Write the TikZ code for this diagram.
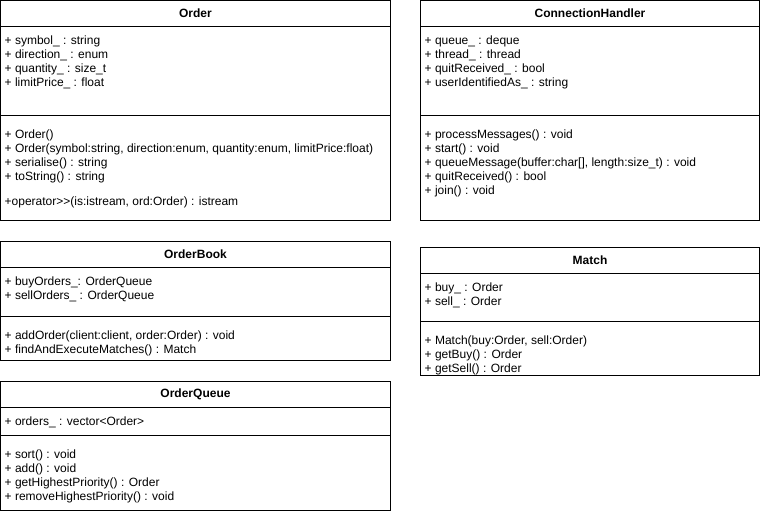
\documentclass[tikz,border=0pt]{standalone}
\usepackage{fontspec}
\setmainfont{Liberation Sans}
\usetikzlibrary{positioning}
\tikzset{
  classname/.style={draw, line width=1pt, inner sep=0pt, outer sep=0pt, anchor=north west,
    minimum height=26pt, font=\fontsize{12}{14}\selectfont\bfseries},
  classpart/.style={draw, line width=1pt, inner sep=0pt, outer sep=0pt},
  members/.style={align=left, anchor=north west, inner sep=0pt, font=\fontsize{12}{14}\selectfont},
}

\begin{document}
\begin{tikzpicture}[x=1pt, y=-1pt]
  \path[use as bounding box, fill=white] (0,0) rectangle (761,514);

  % Order
  \node[classname, minimum width=390pt] (order) at (0.5,0.5) {Order};
  \node[classpart, minimum width=390pt, minimum height=89pt, below=0pt of order] (orderattr) {};
  \node[classpart, minimum width=390pt, minimum height=105pt, below=0pt of orderattr] (orderops) {};
  \node[members] (ordervars) at ([xshift=4pt, yshift=-7.5pt]orderattr.north west)
    {\strut+ symbol\_ : string\\+ direction\_ : enum\\+ quantity\_ : size\_t\\+ limitPrice\_ : float};
  \node[members] (orderfuncs) at ([xshift=4pt, yshift=-12.5pt]orderops.north west)
    {\strut+ Order()\\+ Order(symbol:string, direction:enum, quantity:enum, limitPrice:float)\\
     + serialise() : string\\+ toString() : string\\[11.5pt]+operator>{}>(is:istream, ord:Order) : istream};

  % ConnectionHandler
  \node[classname, minimum width=339pt] (handler) at (420.5,0.5) {ConnectionHandler};
  \node[classpart, minimum width=339pt, minimum height=89pt, below=0pt of handler] (handlerattr) {};
  \node[classpart, minimum width=339pt, minimum height=105pt, below=0pt of handlerattr] (handlerops) {};
  \node[members] (handlervars) at ([xshift=4pt, yshift=-7.5pt]handlerattr.north west)
    {\strut+ queue\_ : deque\\+ thread\_ : thread\\+ quitReceived\_ : bool\\+ userIdentifiedAs\_ : string};
  \node[members] (handlerfuncs) at ([xshift=4pt, yshift=-12.5pt]handlerops.north west)
    {\strut+ processMessages() : void\\+ start() : void\\+ queueMessage(buffer:char[], length:size\_t) : void\\
     + quitReceived() : bool\\+ join() : void};

  % OrderBook
  \node[classname, minimum width=390pt] (book) at (0.5,241.5) {OrderBook};
  \node[classpart, minimum width=390pt, minimum height=49pt, below=0pt of book] (bookattr) {};
  \node[classpart, minimum width=390pt, minimum height=44pt, below=0pt of bookattr] (bookops) {};
  \node[members] (bookvars) at ([xshift=4pt, yshift=-7.5pt]bookattr.north west)
    {\strut+ buyOrders\_: OrderQueue\\+ sellOrders\_ : OrderQueue};
  \node[members] (bookfuncs) at ([xshift=4pt, yshift=-12.5pt]bookops.north west)
    {\strut+ addOrder(client:client, order:Order) : void\\+ findAndExecuteMatches() : Match};

  % Match
  \node[classname, minimum width=339pt] (match) at (420.5,247.5) {Match};
  \node[classpart, minimum width=339pt, minimum height=48pt, below=0pt of match] (matchattr) {};
  \node[classpart, minimum width=339pt, minimum height=54pt, below=0pt of matchattr] (matchops) {};
  \node[members] (matchvars) at ([xshift=4pt, yshift=-7.5pt]matchattr.north west)
    {\strut+ buy\_ : Order\\+ sell\_ : Order};
  \node[members] (matchfuncs) at ([xshift=4pt, yshift=-12.5pt]matchops.north west)
    {\strut+ Match(buy:Order, sell:Order)\\+ getBuy() : Order\\+ getSell() : Order};

  % OrderQueue
  \node[classname, minimum width=390pt] (queue) at (0.5,381.5) {OrderQueue};
  \node[classpart, minimum width=390pt, minimum height=28pt, below=0pt of queue] (queueattr) {};
  \node[classpart, minimum width=390pt, minimum height=75pt, below=0pt of queueattr] (queueops) {};
  \node[members] (queuevars) at ([xshift=4pt, yshift=-7.5pt]queueattr.north west)
    {\strut+ orders\_ : vector<Order>};
  \node[members] (queuefuncs) at ([xshift=4pt, yshift=-12.5pt]queueops.north west)
    {\strut+ sort() : void\\+ add() : void\\+ getHighestPriority() : Order\\+ removeHighestPriority() : void};
\end{tikzpicture}
\end{document}
